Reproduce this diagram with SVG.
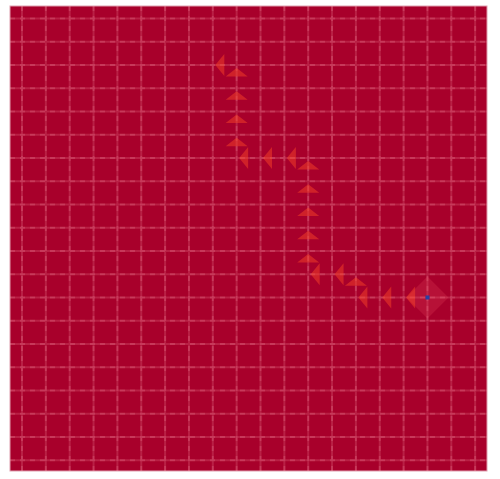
<svg xmlns="http://www.w3.org/2000/svg" xmlns:xlink="http://www.w3.org/1999/xlink" width="500" height="479" viewBox="0 0 500 479">
<style>
.bg{fill:#a8002b;stroke:#e0a0b0;stroke-width:1}
.gl{fill:none;stroke:#ff9fb0;stroke-opacity:0.2;stroke-width:2}
.gd{fill:none;stroke:#300010;stroke-opacity:0.6;stroke-width:1;stroke-dasharray:5 5}
.arr{fill:#ff4a28;fill-opacity:0.45}
.goal{fill:#ff6070;fill-opacity:0.18}
.dot{fill:#2a3fa0}
</style>
<defs>
<polygon id="L" class="arr" points="2.5,0 11.5,-11 11.5,11"/>
<polygon id="U" class="arr" points="0,3 -11,11.5 11,11.5"/>
</defs>
<rect width="500" height="479" fill="#ffffff"/>
<rect class="bg" x="10" y="6" width="477" height="465"/>
<g id="grid">
<path id="gridpath" class="gl" d="M22 6V471M45.85 6V471M69.7 6V471M93.55 6V471M117.4 6V471M141.25 6V471M165.1 6V471M188.95 6V471M212.8 6V471M236.65 6V471M260.5 6V471M284.35 6V471M308.2 6V471M332.05 6V471M355.9 6V471M379.75 6V471M403.6 6V471M427.45 6V471M451.3 6V471M475.15 6V471M10 18.5H487M10 41.75H487M10 65H487M10 88.25H487M10 111.5H487M10 134.75H487M10 158H487M10 181.25H487M10 204.5H487M10 227.75H487M10 251H487M10 274.25H487M10 297.5H487M10 320.75H487M10 344H487M10 367.25H487M10 390.5H487M10 413.75H487M10 437H487M10 460.25H487"/>
<use xlink:href="#gridpath" class="gd"/>
</g>
<g id="goal">
<polygon class="goal" points="427.45,276.5 448.45,297.5 427.45,318.5 406.45,297.5"/>
<rect class="dot" x="425.5" y="295.5" width="4" height="4"/>
</g>
<g id="path-arrows">
<use xlink:href="#L" x="403.6" y="297.5"/>
<use xlink:href="#L" x="379.75" y="297.5"/>
<use xlink:href="#L" x="355.9" y="297.5"/>
<use xlink:href="#U" x="355.9" y="274.25"/>
<use xlink:href="#L" x="332.05" y="274.25"/>
<use xlink:href="#L" x="308.2" y="274.25"/>
<use xlink:href="#U" x="308.2" y="251"/>
<use xlink:href="#U" x="308.2" y="227.75"/>
<use xlink:href="#U" x="308.2" y="204.5"/>
<use xlink:href="#U" x="308.2" y="181.25"/>
<use xlink:href="#U" x="308.2" y="158"/>
<use xlink:href="#L" x="284.35" y="158"/>
<use xlink:href="#L" x="260.5" y="158"/>
<use xlink:href="#L" x="236.65" y="158"/>
<use xlink:href="#U" x="236.65" y="134.75"/>
<use xlink:href="#U" x="236.65" y="111.5"/>
<use xlink:href="#U" x="236.65" y="88.25"/>
<use xlink:href="#U" x="236.65" y="65"/>
<use xlink:href="#L" x="212.8" y="65"/>
</g>
</svg>
